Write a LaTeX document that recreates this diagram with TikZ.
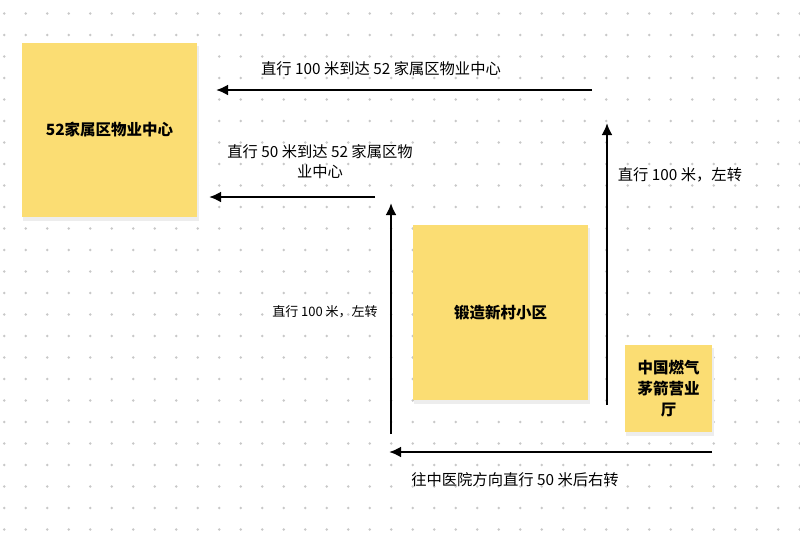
\documentclass[tikz,border=0pt]{standalone}
\usepackage{fontspec}
\newfontfamily\cjk{Noto Sans CJK SC}
\usetikzlibrary{arrows.meta}
\begin{document}
\begin{tikzpicture}[x=1pt,y=-1pt,
  note/.style={fill=notey,draw=none,inner sep=0pt,align=center,font=\cjk\bfseries\fontsize{15.5}{21}\selectfont},
  conn/.style={line width=2.6pt,-{Latex[length=12pt,width=11pt]}},
  lbl/.style={font=\cjk\fontsize{15.3}{20}\selectfont,align=center,inner sep=1pt}]
\definecolor{notey}{HTML}{FBDD73}
\definecolor{dotc}{HTML}{C8C8C8}
\useasboundingbox[fill=white] (0,0) rectangle (800,533);
\foreach \i in {0,...,37}{\foreach \j in {0,...,24}{
  \fill[dotc] ({4.2+21.5*\i},{13.5+21.5*\j}) circle (1.4pt);}}
\foreach \a/\b/\c/\d in {22/43/197/217,413/225/588/400,625/345/712/432}{
  \fill[black!7] (\a+1,\b+3) rectangle (\c+2,\d+4);}
\node[note,minimum width=175pt,minimum height=174pt] (n1) at (109.5,130) {52家属区物业中心};
\node[note,minimum width=175pt,minimum height=175pt] (n2) at (500.5,312.5) {锻造新村小区};
\node[note,minimum width=87pt,minimum height=87pt] (n3) at (668.5,388.5) {中国燃气\\茅箭营业\\厅};
\coordinate (a1s) at (592,90); \coordinate (a1e) at (216,90);
\coordinate (a2s) at (375,197); \coordinate (a2e) at (209,197);
\coordinate (a3s) at (607,405); \coordinate (a3e) at (607,123);
\coordinate (a4s) at (391,434); \coordinate (a4e) at (391,203);
\coordinate (a5s) at (712,452); \coordinate (a5e) at (389,452);
\draw[conn] (a1s) -- (a1e);
\draw[conn] (a2s) -- (a2e);
\draw[conn] (a3s) -- (a3e);
\draw[conn] (a4s) -- (a4e);
\draw[conn] (a5s) -- (a5e);
\node[lbl] (l1) at (381,69) {直行 100 米到达 52 家属区物业中心};
\node[lbl] (l2) at (320,162) {直行 50 米到达 52 家属区物\\业中心};
\node[lbl] (l3) at (680,175) {直行 100 米，左转};
\node[lbl,font=\cjk\fontsize{13}{16}\selectfont] (l4) at (325,312) {直行 100 米，左转};
\node[lbl] (l5) at (515,480) {往中医院方向直行 50 米后右转};
\end{tikzpicture}
\end{document}
